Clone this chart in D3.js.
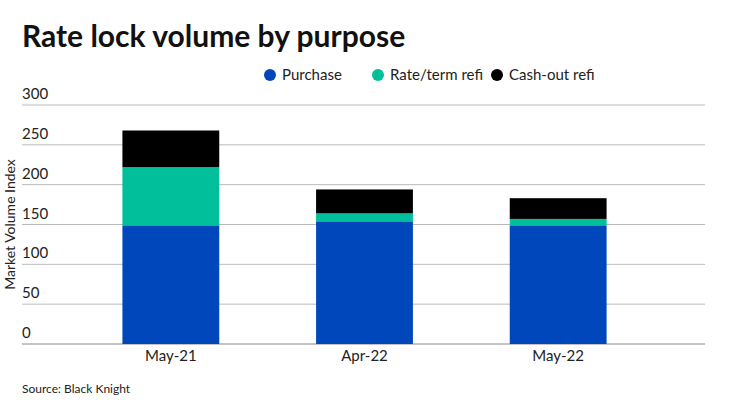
<!DOCTYPE html>
<html>
<head>
<meta charset="utf-8">
<script src="https://cdn.jsdelivr.net/npm/d3@7"></script>
<style>
  body { margin: 0; background: #fff; font-family: Lato, sans-serif; }
</style>
</head>
<body>
<svg id="chart" width="740" height="416"></svg>
<script>
const categories = ['May-21', 'Apr-22', 'May-22'];
const purchase = [149, 154, 149];
const rateTerm = [73, 10, 8];
const cashOut = [46, 30, 26];
const seriesNames = ['Purchase', 'Rate/term refi', 'Cash-out refi'];
const colors = ['#0047bb', '#00bf9a', '#000000'];
const yTicks = [0, 50, 100, 150, 200, 250, 300];

const svg = d3.select('#chart');

svg.append('text').attr('x', 22).attr('y', 47)
  .style('font-size', '30px').style('font-weight', 'bold').style('fill', '#111')
  .text('Rate lock volume by purpose');

const x = d3.scaleBand().domain(categories).range([74, 655]).paddingInner(0.5).paddingOuter(0.25);
const y = d3.scaleLinear().domain([0, 300]).range([344, 105]);

// gridlines + tick labels
const g = svg.append('g');
yTicks.forEach(t => {
  g.append('line').attr('x1', 22).attr('x2', 705).attr('y1', y(t)).attr('y2', y(t))
    .attr('stroke', t === 0 ? '#888' : '#bbb').attr('stroke-width', 1);
  g.append('text').attr('x', 22).attr('y', y(t) - 6)
    .style('font-size', '15px').style('fill', '#222').text(t);
});

svg.append('text')
  .attr('transform', `translate(15,${y(150)}) rotate(-90)`)
  .attr('text-anchor', 'middle').style('font-size', '14px').style('fill', '#222')
  .text('Market Volume Index');

const rows = categories.map((c, i) => ({ cat: c, p: purchase[i], r: rateTerm[i], c: cashOut[i] }));
const stack = d3.stack().keys(['p', 'r', 'c'])(rows);

svg.append('g').selectAll('g').data(stack).join('g')
  .attr('fill', (d, i) => colors[i])
  .selectAll('rect').data(d => d).join('rect')
  .attr('x', d => x(d.data.cat))
  .attr('width', x.bandwidth())
  .attr('y', d => y(d[1]))
  .attr('height', d => y(d[0]) - y(d[1]));

svg.append('g').selectAll('text').data(categories).join('text')
  .attr('x', d => x(d) + x.bandwidth() / 2).attr('y', 361)
  .attr('text-anchor', 'middle').style('font-size', '15px').style('fill', '#222')
  .text(d => d);

// legend
const legX = [270, 378, 497];
const leg = svg.append('g').selectAll('g').data(seriesNames).join('g')
  .attr('transform', (d, i) => `translate(${legX[i]},75)`);
leg.append('circle').attr('r', 6).attr('fill', (d, i) => colors[i]);
leg.append('text').attr('x', 12).attr('y', 5).style('font-size', '15px').style('fill', '#222').text(d => d);

svg.append('text').attr('x', 22).attr('y', 393)
  .style('font-size', '12px').style('fill', '#222').text('Source: Black Knight');
</script>
</body>
</html>
